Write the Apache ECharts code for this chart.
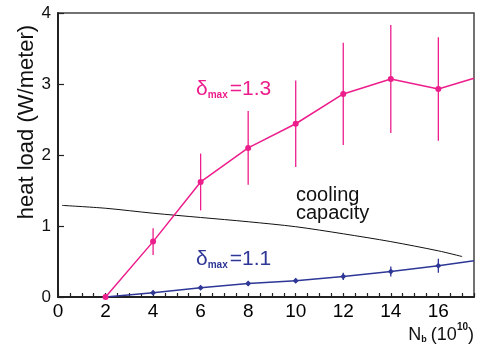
<!DOCTYPE html>
<html><head><meta charset="utf-8">
<script src="https://cdn.jsdelivr.net/npm/echarts@6/dist/echarts.min.js"></script>
<style>html,body{margin:0;padding:0;background:#fff}#c{width:477px;height:347px}</style>
</head><body><div id="c"></div>
<script>
// data
const pinkX   = [2, 4, 6, 8, 10, 12, 14, 16];
const pinkY   = [0, 0.78, 1.62, 2.10, 2.44, 2.86, 3.07, 2.93];
const pinkErr = [0, 0.19, 0.40, 0.52, 0.61, 0.72, 0.76, 0.73];
const pinkTail = [17.5, 3.08];
const blueX   = [2, 4, 6, 8, 10, 12, 14, 16];
const blueY   = [0, 0.06, 0.13, 0.19, 0.23, 0.29, 0.36, 0.44];
const blueErr = [0, 0.02, 0.02, 0.03, 0.03, 0.05, 0.07, 0.10];
const blueTail = [17.5, 0.51];
const coolX = [0.17, 2, 4, 6, 8, 10, 12, 14, 16, 17];
const coolY = [1.29, 1.25, 1.18, 1.12, 1.06, 0.99, 0.89, 0.78, 0.65, 0.57];
const xTicks = [0, 2, 4, 6, 8, 10, 12, 14, 16];
const yTicks = [0, 1, 2, 3, 4];

const PINK = '#ec1e8c', BLUE = '#2e3796';
const FONT = 'Liberation Sans, Arial, sans-serif';

function pts(xs, ys) { return xs.map((x, i) => [x, ys[i]]); }
function errData(xs, ys, es) { return xs.map((x, i) => [x, ys[i] - es[i], ys[i] + es[i]]); }
function errSeries(data, color, width) {
  return {
    type: 'custom', data: data, z: 3, clip: true,
    renderItem: function (params, api) {
      const lo = api.coord([api.value(0), api.value(1)]);
      const hi = api.coord([api.value(0), api.value(2)]);
      return { type: 'line', shape: { x1: lo[0], y1: lo[1], x2: hi[0], y2: hi[1] },
               style: { stroke: color, lineWidth: width } };
    }
  };
}

const chart = echarts.init(document.getElementById('c'), null, { renderer: 'canvas' });
const pinkData = pts(pinkX, pinkY).concat([{ value: pinkTail, symbol: 'none' }]);
const blueData = pts(blueX, blueY).concat([{ value: blueTail, symbol: 'none' }]);

chart.setOption({
  animation: false,
  grid: { left: 58, right: 3, top: 13, bottom: 50, show: true, borderColor: '#444', borderWidth: 1.5 },
  xAxis: {
    type: 'value', min: 0, max: 17.5, interval: 2,
    axisLine: { onZero: false, lineStyle: { color: '#222', width: 2 } },
    axisTick: { inside: true, length: 4, lineStyle: { color: '#222', width: 1.2 } },
    minorTick: { show: true, splitNumber: 4, length: 4, lineStyle: { color: '#222', width: 1.2 } },
    splitLine: { show: false },
    axisLabel: { showMaxLabel: false, margin: 5, fontSize: 19, color: '#000', fontFamily: FONT,
      formatter: v => (xTicks.indexOf(v) >= 0 ? String(v) : '') }
  },
  yAxis: {
    type: 'value', min: 0, max: 4, interval: 1,
    axisLine: { onZero: false, lineStyle: { color: '#222', width: 2 } },
    axisTick: { inside: true, length: 6, lineStyle: { color: '#222', width: 1.2 } },
    splitLine: { show: false },
    axisLabel: { margin: 7, fontSize: 17, color: '#111', fontFamily: FONT,
      formatter: v => (yTicks.indexOf(v) >= 0 ? String(v) : '') }
  },
  series: [
    { type: 'line', data: pts(coolX, coolY), smooth: 0.3, symbol: 'none', z: 2,
      lineStyle: { color: '#111', width: 1 } },
    errSeries(errData(pinkX, pinkY, pinkErr), PINK, 1.3),
    errSeries(errData(blueX, blueY, blueErr), BLUE, 1.3),
    { type: 'line', data: blueData, symbol: 'diamond', symbolSize: 6, z: 4, clip: true,
      itemStyle: { color: BLUE }, lineStyle: { color: BLUE, width: 1.5 } },
    { type: 'line', data: pinkData, symbol: 'circle', symbolSize: 6, z: 5, clip: true,
      itemStyle: { color: PINK }, lineStyle: { color: PINK, width: 1.5 } }
  ],
  graphic: [
    { type: 'text', x: 27, y: 122, rotation: Math.PI / 2, style: {
      text: 'heat load (W/meter)', fontSize: 22, fontFamily: FONT, fill: '#111',
      align: 'center', verticalAlign: 'middle' } },
    { type: 'text', left: 196, top: 79, style: {
      rich: { d: { fontSize: 21, fontFamily: FONT, fill: PINK, lineHeight: 22, verticalAlign: 'bottom' },
              s: { fontSize: 10, fontFamily: FONT, fill: PINK, fontWeight: 'bold', lineHeight: 10, verticalAlign: 'bottom', padding: [0, 2, 0, 0] } },
      text: '{d|δ}{s|max}{d|=1.3}' } },
    { type: 'text', left: 196, top: 249, style: {
      rich: { d: { fontSize: 21, fontFamily: FONT, fill: BLUE, lineHeight: 22, verticalAlign: 'bottom' },
              s: { fontSize: 10, fontFamily: FONT, fill: BLUE, fontWeight: 'bold', lineHeight: 10, verticalAlign: 'bottom', padding: [0, 2, 0, 0] } },
      text: '{d|δ}{s|max}{d|=1.1}' } },
    { type: 'text', left: 296, top: 185, style: {
      text: 'cooling\ncapacity', fontSize: 20, lineHeight: 18, fontFamily: FONT, fill: '#111' } },
    { type: 'text', right: 3, top: 322, style: {
      rich: { n: { fontSize: 18, fontFamily: FONT, fill: '#111', lineHeight: 22, verticalAlign: 'bottom' },
              b: { fontSize: 9, fontFamily: FONT, fill: '#111', fontWeight: 'bold', lineHeight: 10, verticalAlign: 'bottom', padding: [0, 4, 0, 0] },
              p: { fontSize: 10, fontFamily: FONT, fill: '#111', fontWeight: 'bold', lineHeight: 12, verticalAlign: 'top' } },
      text: '{n|N}{b|b}{n|(10}{p|10}{n|)}' } }
  ]
});
</script></body></html>
